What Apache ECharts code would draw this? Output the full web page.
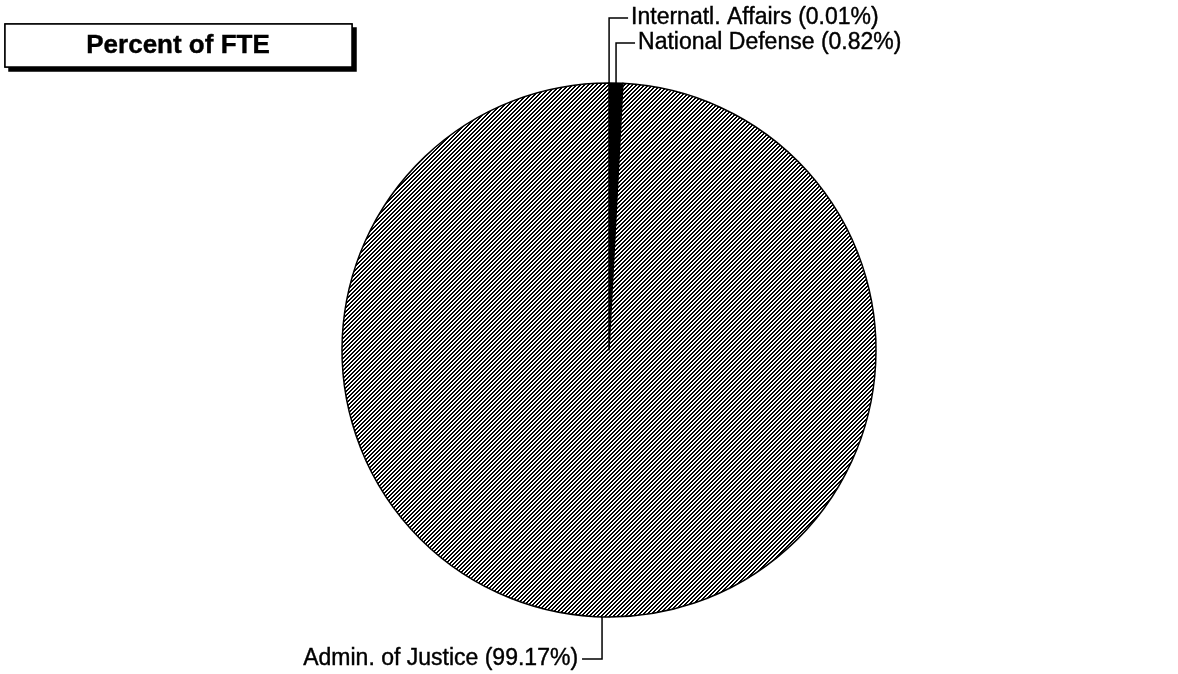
<!DOCTYPE html>
<html>
<head>
<meta charset="utf-8">
<script src="https://cdn.jsdelivr.net/npm/echarts@6/dist/echarts.min.js"></script>
<style>
html,body{margin:0;padding:0;background:#fff;}
#chart{width:1178px;height:674px;}
</style>
</head>
<body>
<div id="chart"></div>
<script>
// Data
var titleText = 'Percent of FTE';
var categories = ['Internatl. Affairs', 'National Defense', 'Admin. of Justice'];
var percentValues = [0.01, 0.82, 99.17];

// hatch pattern for the large slice
function makeHatch() {
  var c = document.createElement('canvas');
  c.width = 4; c.height = 4;
  var ctx = c.getContext('2d');
  ctx.fillStyle = '#fff';
  ctx.fillRect(0, 0, 4, 4);
  ctx.fillStyle = '#000';
  for (var x = 0; x < 4; x++) {
    for (var y = 0; y < 4; y++) {
      if ((x + y) % 4 < 2) ctx.fillRect(x, y, 1, 1);
    }
  }
  return c;
}
var hatch = { image: makeHatch(), repeat: 'repeat' };
var sliceColors = ['#000', '#000', hatch];

var labelLevels = [18, 43, 659]; // y of label rows (layout)

var chart = echarts.init(document.getElementById('chart'), null, { renderer: 'canvas' });
var seriesData = categories.map(function (name, i) {
  return { name: name, value: percentValues[i], itemStyle: { color: sliceColors[i] } };
});

chart.setOption({
  backgroundColor: '#fff',
  animation: false,
  graphic: [
    {
      type: 'rect',
      shape: { x: 5, y: 24, width: 347, height: 43 },
      style: { fill: '#fff', stroke: '#000', lineWidth: 1.5,
        shadowColor: '#000', shadowBlur: 0, shadowOffsetX: 4, shadowOffsetY: 4 },
      z: 10
    },
    {
      type: 'rect',
      shape: { x: 5, y: 24, width: 347, height: 43 },
      style: { fill: '#fff', stroke: '#000', lineWidth: 1.5 },
      z: 11
    },
    {
      type: 'text',
      x: 178, y: 46,
      style: { text: titleText, fill: '#000', font: 'bold 26px "Liberation Sans", Arial, sans-serif',
        align: 'center', verticalAlign: 'middle', stroke: '#000', lineWidth: 0.4 },
      z: 12
    }
  ],
  series: [{
    type: 'pie',
    center: [609, 350],
    radius: [0, 267],
    startAngle: 90,
    clockwise: true,
    avoidLabelOverlap: false,
    minShowLabelAngle: 0,
    emphasis: { disabled: true },
    itemStyle: { borderColor: '#000', borderWidth: 1.5 },
    label: {
      show: true,
      position: 'outside',
      formatter: '{b} ({d}%)',
      color: '#000',
      fontFamily: '"Liberation Sans", Arial, sans-serif',
      fontSize: 23,
      textBorderColor: '#000',
      textBorderWidth: 0.4
    },
    labelLine: {
      show: true,
      length: 10,
      length2: 10,
      lineStyle: { color: '#000', width: 1.5 }
    },
    labelLayout: function (params) {
      var pts = params.labelLinePoints;
      if (!pts) return {};
      var p0 = pts[0];
      var i = params.dataIndex;
      var ly = labelLevels[i];
      if (i < 2) {
        return {
          x: p0[0] + 22, y: ly, align: 'left', verticalAlign: 'middle',
          labelLinePoints: [[p0[0], p0[1]], [p0[0], ly], [p0[0] + 19, ly]]
        };
      }
      return {
        x: p0[0] - 24, y: ly, align: 'right', verticalAlign: 'middle',
        labelLinePoints: [[p0[0], p0[1]], [p0[0], ly], [p0[0] - 20, ly]]
      };
    },
    data: seriesData
  }]
});
</script>
</body>
</html>
